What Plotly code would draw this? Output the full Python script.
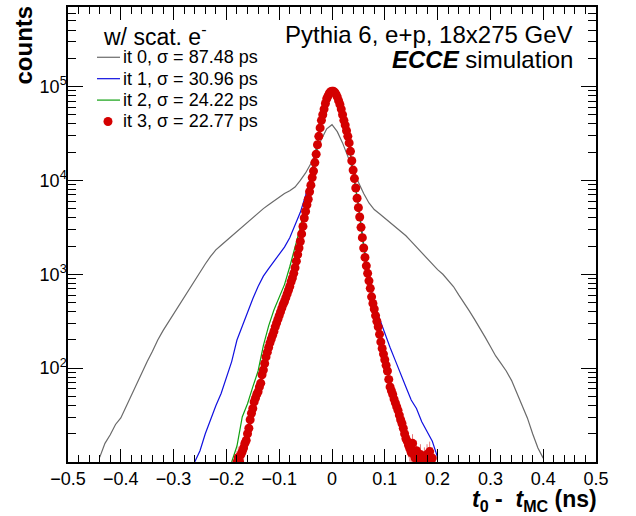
import numpy as np
import plotly.graph_objects as go

# ---------------- data (log10 of counts per bin) -------------
# it 0 : bins of 0.01 ns, centres from -0.44 to 0.40
it0_x_start, it0_step = -0.44, 0.01
it0_log10 = [1.05, 1.20, 1.29, 1.40, 1.47, 1.59, 1.72, 1.84, 1.96, 2.07,
             2.18, 2.30, 2.40, 2.49, 2.58, 2.67, 2.76, 2.85, 2.94, 3.02,
             3.11, 3.19, 3.26, 3.31, 3.36, 3.41, 3.46, 3.51, 3.56, 3.61,
             3.66, 3.70, 3.74, 3.78, 3.82, 3.86, 3.89, 3.93, 4.00, 4.08,
             4.18, 4.30, 4.44, 4.55, 4.594, 4.52, 4.40, 4.25, 4.11, 3.98,
             3.86, 3.76, 3.69, 3.645, 3.60, 3.55, 3.51, 3.46, 3.41, 3.35,
             3.29, 3.22, 3.17, 3.11, 3.05, 3.00, 2.94, 2.87, 2.78, 2.70,
             2.61, 2.52, 2.43, 2.33, 2.23, 2.13, 2.05, 1.97, 1.87, 1.73,
             1.60, 1.47, 1.30, 1.15, 1.04]

# it 1 : bins of 0.01 ns, centres from -0.26 to 0.20
it1_x_start, it1_step = -0.26, 0.01
it1_log10 = [1.00, 1.12, 1.30, 1.46, 1.60, 1.73, 1.90, 2.07, 2.30, 2.45,
             2.58, 2.74, 2.87, 2.98, 3.06, 3.14, 3.21, 3.29, 3.39, 3.52,
             3.66, 3.84, 4.05, 4.32, 4.62, 4.85, 4.92, 4.87, 4.68, 4.46,
             4.12, 3.74, 3.32, 2.96, 2.68, 2.52, 2.37, 2.22, 2.08, 1.95,
             1.80, 1.66, 1.57, 1.43, 1.33, 1.22, 1.05]

# it 2 : bins of 0.01 ns, centres from -0.19 to 0.17
it2_x_start, it2_step = -0.19, 0.01
it2_log10 = [1.00, 1.17, 1.48, 1.62, 1.80, 1.97, 2.24, 2.45, 2.62, 2.76,
             2.89, 3.08, 3.28, 3.50, 3.76, 4.02, 4.33, 4.63, 4.86, 4.94,
             4.88, 4.69, 4.46, 4.11, 3.72, 3.29, 2.93, 2.63, 2.37, 2.10,
             1.83, 1.64, 1.47, 1.27, 1.15, 1.06, 1.00]

# it 3 : bins of 0.0025 ns, centres from -0.18 to 0.19
it3_x_start, it3_step = -0.18, 0.0025
it3_log10 = [1.00, 1.05, 1.00, 1.08, 1.11, 1.15, 1.20, 1.23, 1.30, 1.36,
             1.45, 1.52, 1.57, 1.64, 1.68, 1.72, 1.75, 1.80, 1.84, 1.93,
             1.98, 2.05, 2.12, 2.17, 2.22, 2.27, 2.31, 2.35, 2.39, 2.44,
             2.48, 2.52, 2.56, 2.60, 2.64, 2.68, 2.71, 2.75, 2.79, 2.83,
             2.87, 2.92, 2.96, 3.01, 3.07, 3.14, 3.21, 3.28, 3.35, 3.43,
             3.51, 3.60, 3.67, 3.74, 3.80, 3.88, 3.95, 4.03, 4.10, 4.19,
             4.28, 4.38, 4.47, 4.56, 4.64, 4.70, 4.76, 4.82, 4.87, 4.90,
             4.93, 4.945,
             4.95, 4.95, 4.94, 4.92, 4.89, 4.85, 4.81, 4.76, 4.70, 4.64,
             4.59, 4.53, 4.47, 4.40, 4.31, 4.21, 4.11, 4.02, 3.92, 3.81,
             3.71, 3.61, 3.50, 3.39, 3.28, 3.18, 3.09, 3.01, 2.93, 2.85,
             2.76, 2.69, 2.63, 2.56, 2.50, 2.44, 2.36, 2.28, 2.21, 2.15,
             2.09, 2.03, 1.97, 1.88, 1.80, 1.76, 1.72, 1.67, 1.63, 1.59,
             1.55, 1.50, 1.45, 1.41, 1.36, 1.30, 1.25, 1.22, 1.18, 1.14,
             1.10, 1.20, 1.08, 1.04, 1.12, 1.00, 1.04, 1.08, 1.00, 1.00,
             1.04, 1.00, 1.08, 1.04, 1.11, 1.00, 1.04]

legend_title = "w/ scat. e<sup>-</sup>"
legend_names = ["it 0, σ = 87.48 ps", "it 1, σ = 30.96 ps",
                "it 2, σ = 24.22 ps", "it 3, σ = 22.77 ps"]
series_colors = ["#6a6a6a", "#1010e0", "#10a010", "#d40000"]
x_ticks = [-0.5, -0.4, -0.3, -0.2, -0.1, 0, 0.1, 0.2, 0.3, 0.4, 0.5]
y_tick_vals = [1e2, 1e3, 1e4, 1e5]
y_tick_text = ["10<sup>2</sup>", "10<sup>3</sup>", "10<sup>4</sup>", "10<sup>5</sup>"]


def centres(start, step, n):
    return np.round(start + step * np.arange(n), 5)


def counts(logs):
    return np.round(10 ** np.array(logs), 1)


x0, y0 = centres(it0_x_start, it0_step, len(it0_log10)), counts(it0_log10)
x1, y1 = centres(it1_x_start, it1_step, len(it1_log10)), counts(it1_log10)
x2, y2 = centres(it2_x_start, it2_step, len(it2_log10)), counts(it2_log10)
x3, y3 = centres(it3_x_start, it3_step, len(it3_log10)), counts(it3_log10)

FONT = "Liberation Sans, Arial, Helvetica, sans-serif"

fig = go.Figure()
fig.add_trace(go.Scatter(x=x0, y=y0, mode="lines", name=legend_names[0], showlegend=False,
                         line=dict(color=series_colors[0], width=1.2)))
fig.add_trace(go.Scatter(x=x1, y=y1, mode="lines", name=legend_names[1], showlegend=False,
                         line=dict(color=series_colors[1], width=1.2)))
fig.add_trace(go.Scatter(x=x2, y=y2, mode="lines", name=legend_names[2], showlegend=False,
                         line=dict(color=series_colors[2], width=1.2)))
fig.add_trace(go.Scatter(x=x3, y=y3, mode="markers", name=legend_names[3], showlegend=False,
                         marker=dict(color=series_colors[3], size=9, line=dict(width=0)),
                         error_y=dict(type="data", array=np.sqrt(y3), visible=True,
                                      color="rgba(212,0,0,0.55)", thickness=1, width=0)))

W, H = 636, 516
L, R, T, B = 68, 40, 5, 54
pw, ph = W - L - R, H - T - B


def px(xp):
    return (xp - L) / pw


def py(yp):
    return 1 - (yp - T) / ph


minor_y = [m * 10 ** e for e in range(1, 6) for m in range(2, 10) if m * 10 ** e < 7e5]

fig.update_layout(
    width=W, height=H,
    margin=dict(l=L, r=R, t=T, b=B),
    paper_bgcolor="white", plot_bgcolor="white",
    font=dict(family=FONT, size=18, color="black"),
    showlegend=False,
    xaxis=dict(range=[-0.5, 0.5], tickvals=x_ticks, showgrid=False, zeroline=False,
               showline=True, linecolor="black", linewidth=1.5, mirror="ticks",
               ticks="inside", ticklen=13, tickwidth=1, tickcolor="black",
               tickfont=dict(size=18, family=FONT),
               minor=dict(dtick=0.02, ticks="inside", ticklen=7, tickcolor="black",
                          showgrid=False)),
    yaxis=dict(type="log", range=[1, 5.848], tickvals=y_tick_vals, ticktext=y_tick_text,
               showgrid=False, zeroline=False,
               showline=True, linecolor="black", linewidth=1.5, mirror="ticks",
               ticks="inside", ticklen=15, tickwidth=1, tickcolor="black",
               tickfont=dict(size=18, family=FONT),
               minor=dict(tickvals=minor_y, ticks="inside", ticklen=8, tickcolor="black",
                          showgrid=False)),
)
try:
    fig.update_yaxes(ticklabelstandoff=-4)
except Exception:
    pass

# axis titles
fig.add_annotation(text="<b>counts</b>", xref="paper", yref="paper",
                   x=px(24), y=py(2), xanchor="center", yanchor="top",
                   textangle=-90, showarrow=False, font=dict(size=24, family=FONT))
fig.add_annotation(text="<b><i>t</i><sub>0</sub> -  <i>t</i><sub>MC</sub> (ns)</b>",
                   xref="paper", yref="paper", x=px(599), y=py(501),
                   xanchor="right", yanchor="middle", showarrow=False,
                   font=dict(size=23, family=FONT))
# labels top right
fig.add_annotation(text="Pythia 6, e+p, 18x275 GeV", xref="paper", yref="paper",
                   x=px(575), y=py(33), xanchor="right", yanchor="middle",
                   showarrow=False, font=dict(size=24, family=FONT))
fig.add_annotation(text="<b><i>ECCE</i></b> simulation", xref="paper", yref="paper",
                   x=px(575), y=py(58), xanchor="right", yanchor="middle",
                   showarrow=False, font=dict(size=24, family=FONT))

# legend (drawn by hand to match the ROOT layout)
fig.add_annotation(text=legend_title, xref="paper", yref="paper", x=px(101), y=py(33),
                   xanchor="left", yanchor="middle", showarrow=False,
                   font=dict(size=23, family=FONT))
rows = [55.5, 77, 98.5, 120]
for i, name in enumerate(legend_names):
    fig.add_annotation(text=name, xref="paper", yref="paper", x=px(121), y=py(rows[i]),
                       xanchor="left", yanchor="middle", showarrow=False,
                       font=dict(size=18, family=FONT))
    if i < 3:
        fig.add_shape(type="line", xref="paper", yref="paper",
                      x0=px(97), x1=px(120), y0=py(rows[i]), y1=py(rows[i]),
                      line=dict(color=series_colors[i], width=1.2))
    else:
        fig.add_shape(type="circle", xref="paper", yref="paper",
                      xsizemode="pixel", ysizemode="pixel",
                      xanchor=px(108), yanchor=py(rows[i]),
                      x0=-4.5, x1=4.5, y0=-4.5, y1=4.5,
                      fillcolor=series_colors[3], line=dict(width=0))

fig.write_html("out.html", config={"displayModeBar": False},
               post_script="document.body.style.margin='0';")
